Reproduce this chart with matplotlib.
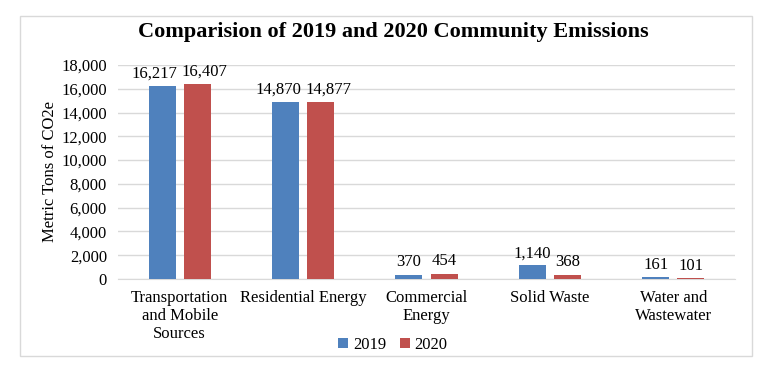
import matplotlib
matplotlib.use("Agg")
import matplotlib.pyplot as plt
from matplotlib.patches import Rectangle
import numpy as np

categories = ["Transportation\nand Mobile\nSources", "Residential Energy", "Commercial\nEnergy", "Solid Waste", "Water and\nWastewater"]
values_2019 = [16217, 14870, 370, 1140, 161]
values_2020 = [16407, 14877, 454, 368, 101]
series_names = ["2019", "2020"]
yticks = list(range(0, 18001, 2000))

plt.rcParams['font.family'] = ['Liberation Serif', 'DejaVu Serif']

fig = plt.figure(figsize=(7.71, 3.75), dpi=100)
ax = fig.add_axes([118/771, 1-279/375, (735-118)/771, (279-65)/375])

x = np.arange(len(categories))
w = 0.22
gap = 0.065
c1 = "#4F81BD"
c2 = "#C0504D"
b1 = ax.bar(x - w/2 - gap/2, values_2019, w, color=c1, label=series_names[0], zorder=3)
b2 = ax.bar(x + w/2 + gap/2, values_2020, w, color=c2, label=series_names[1], zorder=3)

fs = 12
labels1, labels2 = [], []
for bars, store in ((b1, labels1), (b2, labels2)):
    for r in bars:
        t = ax.annotate(f"{int(r.get_height()):,}", (r.get_x() + r.get_width()/2, r.get_height()),
                        xytext=(0, 3), textcoords="offset points", ha="center", va="bottom", fontsize=fs)
        store.append(t)

ax.set_xlim(-0.5, len(categories) - 0.5)
ax.set_ylim(0, 18000)
ax.set_yticks(yticks)
ax.set_yticklabels([f"{v:,}" for v in yticks], fontsize=12)
ax.set_xticks(x)
ax.set_xticklabels(categories, fontsize=12, linespacing=1.15)
ax.tick_params(axis="both", length=0)
ax.tick_params(axis="y", pad=8)
ax.tick_params(axis="x", pad=8)
ax.grid(axis="y", color="#D9D9D9", linewidth=1, zorder=0)
for s in ["top", "right", "left"]:
    ax.spines[s].set_visible(False)
ax.spines["bottom"].set_color("#D9D9D9")
ax.set_ylabel("Metric Tons of CO2e", fontsize=12, labelpad=2)

# push overlapping data labels apart (like Excel)
fig.canvas.draw()
renderer = fig.canvas.get_renderer()
for t1, t2 in zip(labels1, labels2):
    e1 = t1.get_window_extent(renderer)
    e2 = t2.get_window_extent(renderer)
    vert_overlap = not (e1.y1 < e2.y0 or e2.y1 < e1.y0)
    overlap = e1.x1 + 4 - e2.x0
    if vert_overlap and overlap > 0:
        sh = overlap / 2 * 72 / fig.dpi
        t1.xyann = (-sh, 3)
        t2.xyann = (sh, 3)

fig.text(393/771, 1-32/375, "Comparision of 2019 and 2020 Community Emissions",
         ha="center", va="center", fontsize=16, fontweight="bold")

leg = fig.legend(handles=[b1, b2], labels=series_names, loc="center", bbox_to_anchor=(393/771, 1-345/375),
                 ncol=2, frameon=False, fontsize=12, handlelength=0.6, handleheight=0.6,
                 handletextpad=0.3, columnspacing=0.8)

fig.patches.append(Rectangle((20/771, 1-356/375), (752-20)/771, (356-16)/375,
                             transform=fig.transFigure, fill=False, edgecolor="#D9D9D9", linewidth=1))

fig.savefig("out.png", dpi=100)
